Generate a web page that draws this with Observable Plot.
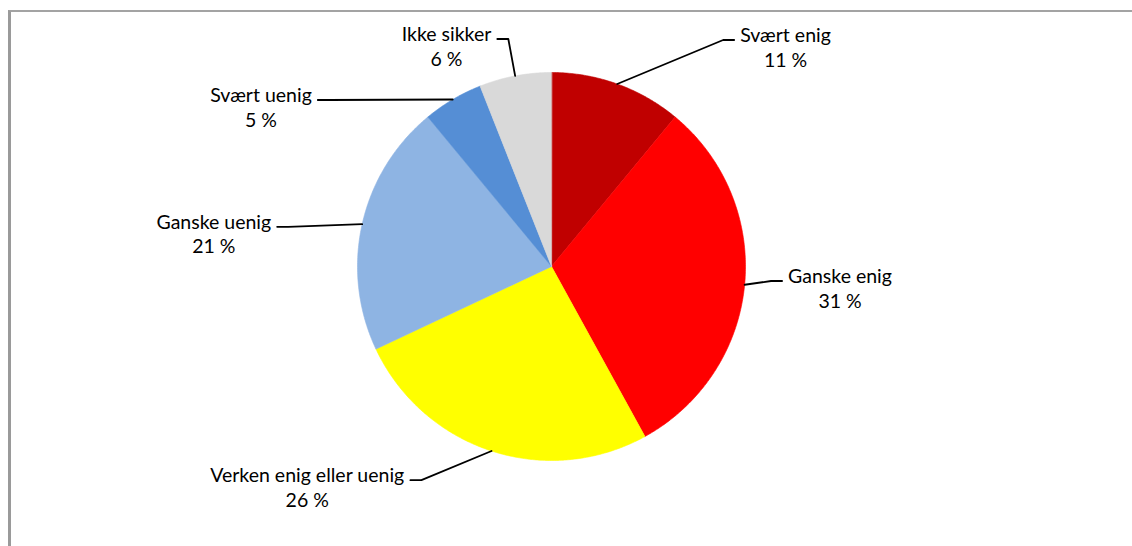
<!DOCTYPE html>
<html>
<head>
<meta charset="utf-8">
<script src="https://cdn.jsdelivr.net/npm/d3@7"></script>
<script src="https://cdn.jsdelivr.net/npm/@observablehq/plot@0.6"></script>
<style>
  html, body { margin: 0; padding: 0; background: #ffffff; }
  #wrap { position: relative; width: 1132px; height: 546px; overflow: hidden; }
  #frame { position: absolute; left: 8px; top: 10px; right: -4px; bottom: -4px;
           border-left: 3px solid #9a9a9a; border-top: 2px solid #a3a3a3; pointer-events: none; }
  #chart { position: absolute; left: 0; top: 0; }
</style>
</head>
<body>
<div id="wrap"><div id="chart"></div><div id="frame"></div></div>
<script>
// ---- data ----
const categories = ["Svært enig", "Ganske enig", "Verken enig eller uenig", "Ganske uenig", "Svært uenig", "Ikke sikker"];
const values = [11, 31, 26, 21, 5, 6];
const colors = ["#C00000", "#FF0000", "#FFFF00", "#8EB4E3", "#558ED5", "#D9D9D9"];
const pctLabels = values.map(v => `${v} %`);

// ---- layout ----
const W = 1132, H = 546;
const CX = 551, CY = 266, R = 194;
const FONT = "Lato, 'Open Sans', sans-serif";
const FONT_SIZE = 19.5;
const LINE_GAP = 24.5;
// label centre (dx) and first-line baseline (dy) relative to pie centre
const labelOffsets = [[234, -224.5], [288.5, 16.5], [-244.3, 215.7], [-337.7, -37.7], [-290.5, -164.5], [-105, -225.5]];

const ctx = document.createElement("canvas").getContext("2d");
ctx.font = `${FONT_SIZE}px Lato`;

const arcs = d3.pie().sort(null).value(d => d)(values);
const pt = (a, r) => [CX + r * Math.sin(a), CY - r * Math.cos(a)];

// wedges
const wedgePts = [];
arcs.forEach((a, i) => {
  const n = Math.max(4, Math.ceil((a.endAngle - a.startAngle) / (Math.PI / 360)));
  wedgePts.push({key: categories[i], x: CX, y: CY});
  for (let k = 0; k <= n; ++k) {
    const t = a.startAngle + (a.endAngle - a.startAngle) * k / n;
    const [x, y] = pt(t, R);
    wedgePts.push({key: categories[i], x, y});
  }
});

// labels and leader lines
const labels = [];
const leaderPts = [];
arcs.forEach((a, i) => {
  const [dx, dy] = labelOffsets[i];
  const lx = CX + dx, ly = CY + dy;
  labels.push({name: categories[i], pct: pctLabels[i], x: lx, y: ly});
  const w = ctx.measureText(categories[i]).width;
  const side = dx < 0 ? 1 : -1; // direction toward the pie
  const endX = lx + side * (w / 2 + 6);
  const yy = ly - 2;
  const mid = (a.startAngle + a.endAngle) / 2;
  const [ex, ey] = pt(mid, R);
  leaderPts.push({key: categories[i], x: endX, y: yy});
  leaderPts.push({key: categories[i], x: endX + side * 11, y: yy});
  leaderPts.push({key: categories[i], x: ex, y: ey});
});

const plot = Plot.plot({
  width: W, height: H,
  margin: 0,
  x: {domain: [0, W], range: [0, W], axis: null},
  y: {domain: [0, H], range: [0, H], axis: null},
  color: {domain: categories, range: colors},
  style: {fontFamily: FONT, background: "transparent"},
  marks: [
    Plot.line(wedgePts, {x: "x", y: "y", z: "key", fill: "key", stroke: "key", strokeWidth: 0.6, curve: "linear-closed"}),
    Plot.line(leaderPts, {x: "x", y: "y", z: "key", stroke: "#000000", strokeWidth: 1.8}),
    Plot.text(labels, {x: "x", y: "y", text: "name", fontSize: FONT_SIZE, fill: "#000000", textAnchor: "middle", lineAnchor: "bottom"}),
    Plot.text(labels, {x: "x", y: d => d.y + LINE_GAP, text: "pct", fontSize: FONT_SIZE, fill: "#000000", textAnchor: "middle", lineAnchor: "bottom"})
  ]
});
document.getElementById("chart").appendChild(plot);
</script>
</body>
</html>
